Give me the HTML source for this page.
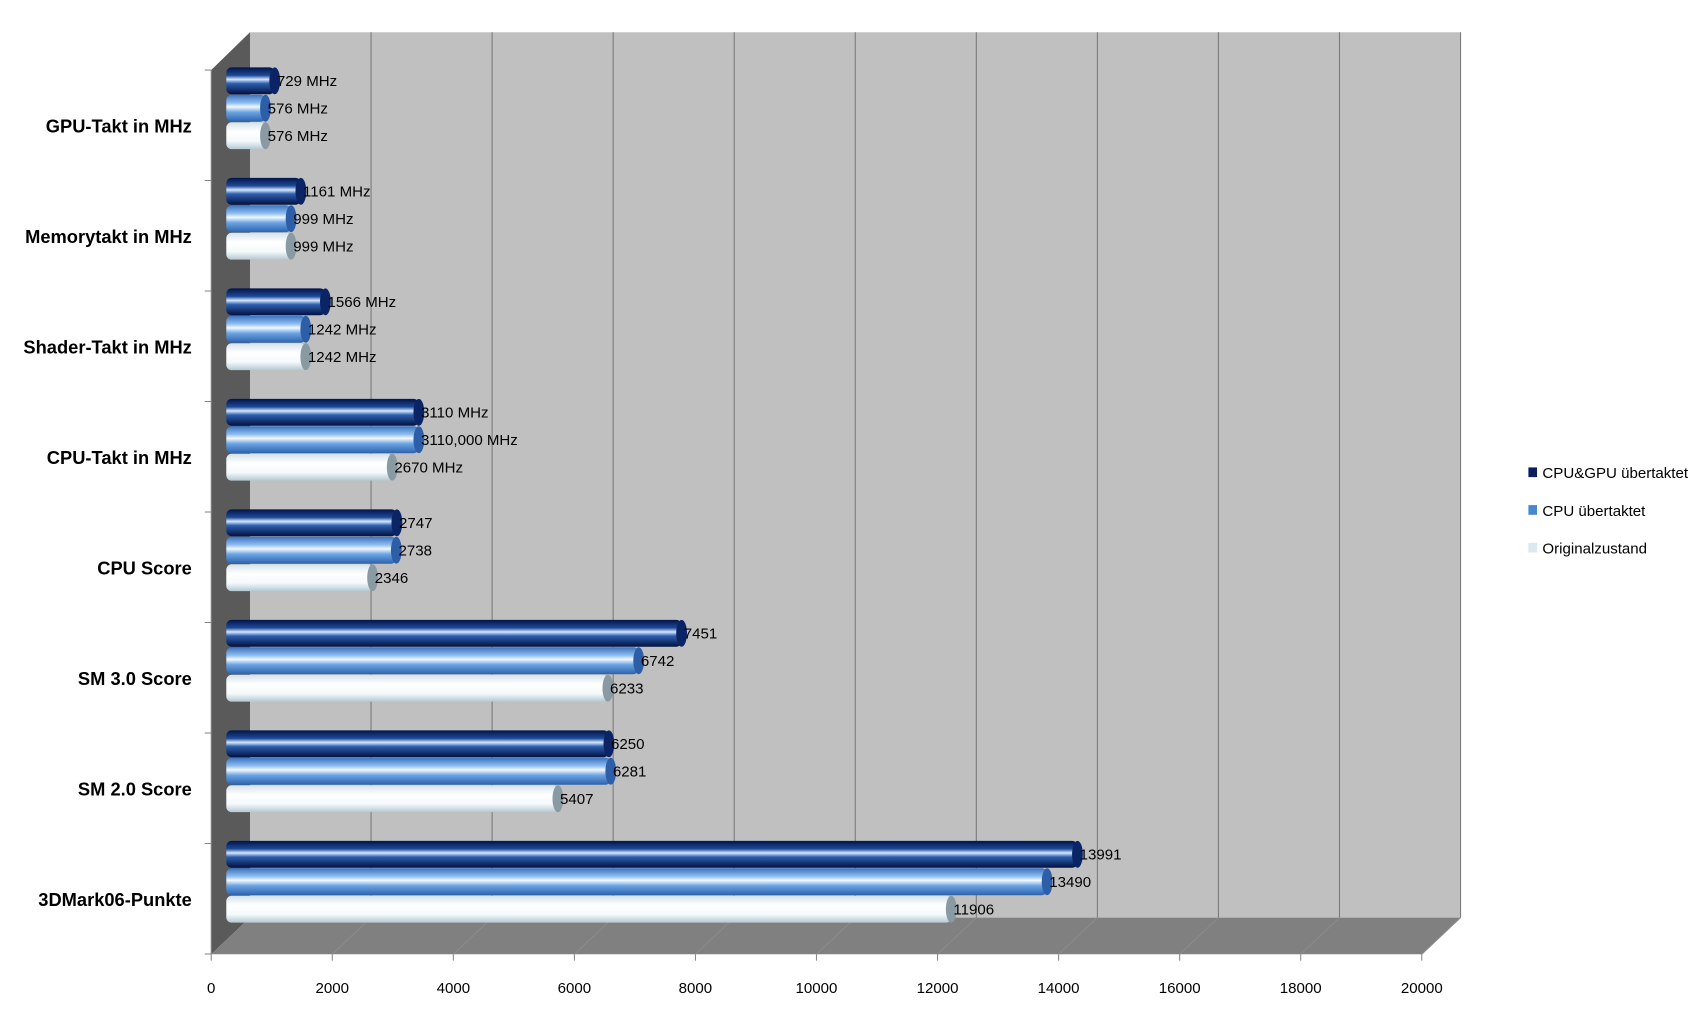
<!DOCTYPE html>
<html><head><meta charset="utf-8"><style>
html,body{margin:0;padding:0;background:#fff;}
svg{display:block;font-family:"Liberation Sans Narrow","Liberation Sans",sans-serif;}
</style></head><body>
<svg id="chart" width="1689" height="1021" viewBox="0 0 1568 948" xmlns="http://www.w3.org/2000/svg">
<defs>
<linearGradient id="g0" x1="0" y1="0" x2="0" y2="1">
<stop offset="0" stop-color="#031347"/><stop offset="0.3" stop-color="#1d4a98"/><stop offset="0.45" stop-color="#d6e8ff"/><stop offset="0.6" stop-color="#2d5fae"/><stop offset="1" stop-color="#021040"/></linearGradient>
<linearGradient id="g1" x1="0" y1="0" x2="0" y2="1">
<stop offset="0" stop-color="#3a72be"/><stop offset="0.3" stop-color="#8fbdf0"/><stop offset="0.45" stop-color="#f2f8ff"/><stop offset="0.65" stop-color="#6aa3e3"/><stop offset="1" stop-color="#2c62ac"/></linearGradient>
<linearGradient id="g2" x1="0" y1="0" x2="0" y2="1">
<stop offset="0" stop-color="#d4e2e9"/><stop offset="0.35" stop-color="#ffffff"/><stop offset="0.7" stop-color="#f4f9fb"/><stop offset="1" stop-color="#b5c8d2"/></linearGradient>
</defs>
<polygon points="232,30 1356,30 1356,852 232,852" fill="#c0c0c0"/>
<polygon points="196,65 232,30 232,852 196,886" fill="#5a5a5a"/>
<polygon points="196,886 232,852 1356,852 1320,886" fill="#808080"/>
<g id="grid"></g><g id="bars"></g><g id="labels"></g>
<g font-size="14" fill="#000">
<rect x="1419" y="434" width="8" height="9" fill="#0a1f5c"/>
<text x="1432" y="444">CPU&amp;GPU übertaktet</text>
<rect x="1419" y="469" width="8" height="9" fill="#4a86d0"/>
<text x="1432" y="479">CPU übertaktet</text>
<rect x="1419" y="504" width="8" height="9" fill="#d8eaf0"/>
<text x="1432" y="514">Originalzustand</text>
</g>
</svg>
<script>
const categories=["GPU-Takt in MHz","Memorytakt in MHz","Shader-Takt in MHz","CPU-Takt in MHz","CPU Score","SM 3.0 Score","SM 2.0 Score","3DMark06-Punkte"];
const seriesCpuGpu=[729,1161,1566,3110,2747,7451,6250,13991];
const seriesCpu=[576,999,1242,3110,2738,6742,6281,13490];
const seriesOrig=[576,999,1242,2670,2346,6233,5407,11906];
const labelsCpuGpu=["729 MHz","1161 MHz","1566 MHz","3110 MHz","2747","7451","6250","13991"];
const labelsCpu=["576 MHz","999 MHz","1242 MHz","3110,000 MHz","2738","6742","6281","13490"];
const labelsOrig=["576 MHz","999 MHz","1242 MHz","2670 MHz","2346","6233","5407","11906"];
const ticks=[0,2000,4000,6000,8000,10000,12000,14000,16000,18000,20000];
const NS="http://www.w3.org/2000/svg";
const x=v=>196+v*(1124/20000);
const catY=i=>65+i*102.6;
function mk(t,a,p){const e=document.createElementNS(NS,t);for(const k in a)e.setAttribute(k,a[k]);p.appendChild(e);return e;}
const grid=document.getElementById('grid'),bars=document.getElementById('bars'),lab=document.getElementById('labels');
ticks.forEach((t,i)=>{
 if(i>0){const l=mk('line',{x1:x(t)+36,y1:30,x2:x(t)+36,y2:852,stroke:'#7a7a7a','stroke-width':1},grid);
 
 
 const d=mk('line',{x1:x(t),y1:886,x2:x(t)+36,y2:852,stroke:'#8c8c8c','stroke-width':1},grid);
 
 }
 const tk=mk('line',{x1:x(t),y1:886,x2:x(t),y2:892,stroke:'#888'},grid);
 
 
 const tx=mk('text',{x:x(t),y:922,'font-size':14,'text-anchor':'middle',fill:'#000'},lab);
 tx.textContent=t;
 
 
});
mk('line',{x1:196,y1:65,x2:196,y2:886,stroke:'#888'},grid);
for(let i=0;i<=categories.length;i++){const l=mk('line',{x1:190,y1:catY(i),x2:196,y2:catY(i),stroke:'#888'},grid);
 
 }
const series=[[seriesCpuGpu,labelsCpuGpu,'g0','#0b2466'],[seriesCpu,labelsCpu,'g1','#2c5fa8'],[seriesOrig,labelsOrig,'g2','#8a9aa3']];
categories.forEach((c,i)=>{
 const t=mk('text',{x:178,y:catY(i)+58,'font-size':17,'font-weight':'bold','text-anchor':'end',fill:'#000','font-family':'"Liberation Sans",sans-serif'},lab);
 t.textContent=c;
 
 
 series.forEach((s,j)=>{
  const cy=catY(i)+10+j*25.5, end=x(s[0][i])+18;
  const r=mk('rect',{x:210,y:cy-12.5,width:end-210,height:25,rx:5,fill:'url(#'+s[2]+')'},bars);
  
  
  const e=mk('ellipse',{cx:end,cy:cy,rx:5,ry:12.5,fill:s[3]},bars);
  
  
  const tl=mk('text',{x:end+2,y:cy+5,'font-size':14,fill:'#000'},lab);
  tl.textContent=s[1][i];
  
  
 });
});
</script>
</body></html>
